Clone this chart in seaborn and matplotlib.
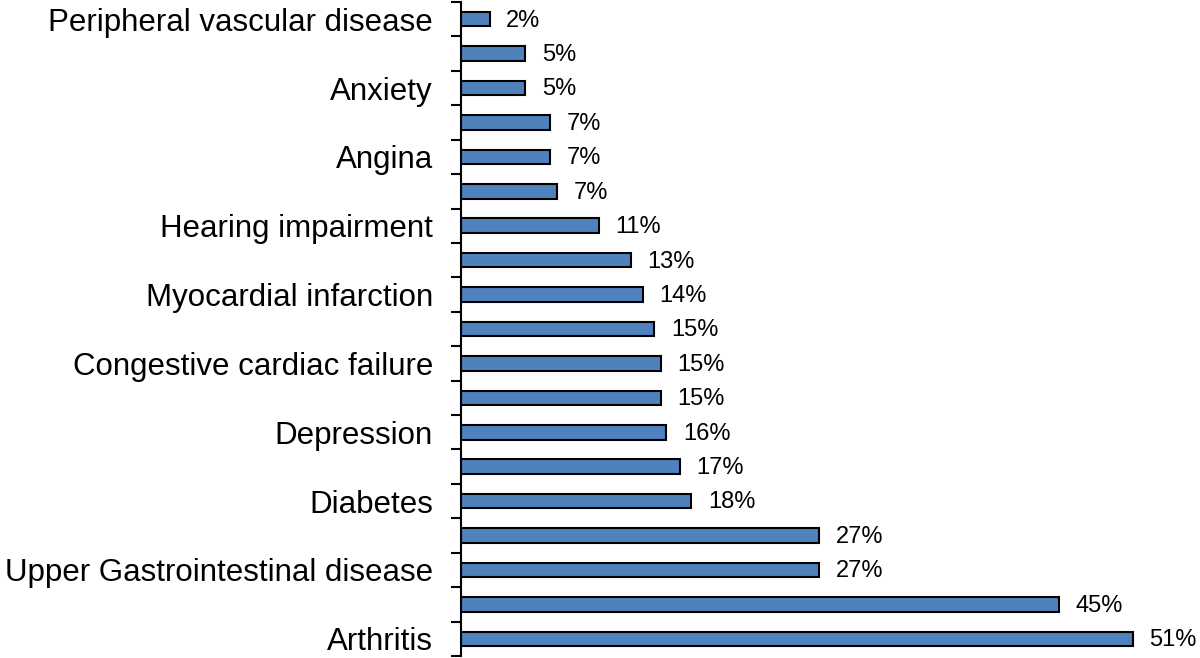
import numpy as np
import pandas as pd
import matplotlib
matplotlib.use("Agg")
import matplotlib.pyplot as plt
import seaborn as sns

# top to bottom; unlabelled rows in the reference are left blank
conditions = ["Peripheral vascular disease", "", "Anxiety", "", "Angina", "",
              "Hearing impairment", "", "Myocardial infarction", "",
              "Congestive cardiac failure", "", "Depression", "", "Diabetes", "",
              "Upper Gastrointestinal disease", "", "Arthritis"]
prevalence = [2.2, 4.9, 4.9, 6.8, 6.8, 7.3, 10.5, 12.9, 13.8, 14.7, 15.2, 15.2,
              15.6, 16.6, 17.5, 27.2, 27.2, 45.4, 51.0]
value_labels = ["2%", "5%", "5%", "7%", "7%", "7%", "11%", "13%", "14%", "15%",
                "15%", "15%", "16%", "17%", "18%", "27%", "27%", "45%", "51%"]

df = pd.DataFrame({
    "row": [f"r{i}" for i in range(len(prevalence))],
    "value": prevalence,
})

sns.set_style("white")
fig = plt.figure(figsize=(12, 6.58), dpi=100)
ax = fig.add_axes([0.384, 0.003, 0.616, 0.994])

sns.barplot(data=df, x="value", y="row", orient="h", color="#4F81BD",
            saturation=1, width=0.42, edgecolor="black", linewidth=1.5, ax=ax)

ax.set_xlim(0, 56.1)
ax.set_ylim(len(prevalence) - 0.5, -0.5)

# value labels
for i, (v, lab) in enumerate(zip(prevalence, value_labels)):
    ax.text(v + 1.25, i + 0.04, lab, va="center", ha="left", fontsize=17,
            family="Liberation Sans", color="black")

# labels at bar centres, ticks at the boundaries
ax.set_yticks(range(len(conditions)))
ax.set_yticklabels(conditions, fontsize=22.5, family="Liberation Sans",
                   color="black")
ax.tick_params(axis="y", which="major", length=0, pad=20)
ax.set_yticks(np.arange(-0.5, len(conditions), 1), minor=True)
ax.tick_params(axis="y", which="minor", length=7, width=1.5, direction="out",
               left=True, color="black")

ax.set_xticks([])
ax.set_xlabel("")
ax.set_ylabel("")
for s in ["top", "right", "bottom"]:
    ax.spines[s].set_visible(False)
ax.spines["left"].set_linewidth(1.5)
ax.spines["left"].set_color("black")

fig.savefig("out.png", dpi=100)
